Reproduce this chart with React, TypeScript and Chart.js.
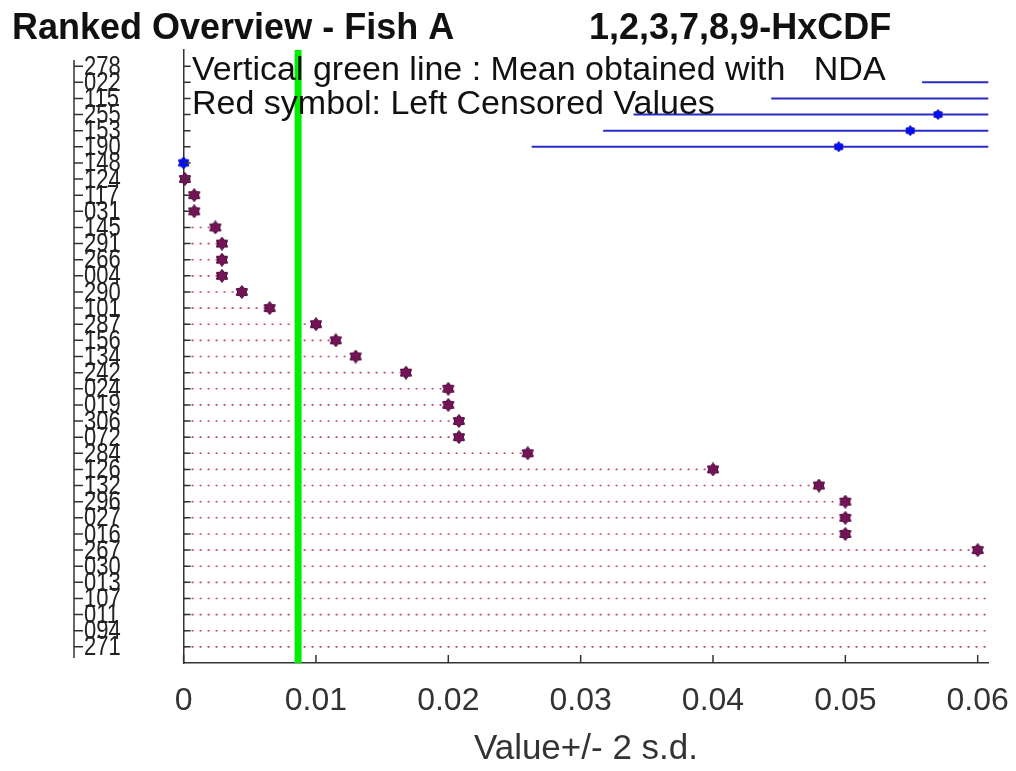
import React, { useEffect, useRef } from 'react';
import { Chart, registerables } from 'chart.js';

Chart.register(...registerables);

const titleLeft = 'Ranked Overview - Fish A';
const titleRight = '1,2,3,7,8,9-HxCDF';
const legendLines = ['Vertical green line : Mean obtained with   NDA', 'Red symbol: Left Censored Values'];
const xAxisTitle = 'Value+/- 2 s.d.';

// rows measured with +/- 2 s.d. (blue)
const blueIds = ['278', '022', '115', '255', '153', '190', '148'];
const blueValues = [0.092, 0.0788, 0.0675, 0.057, 0.0549, 0.0495, 0.0];
const blueLow = [0.069, 0.0558, 0.0444, 0.034, 0.0317, 0.0263, 0.0];
const blueHigh = [0.115, 0.1018, 0.0906, 0.08, 0.0781, 0.0727, 0.0];

// left censored rows (purple)
const censoredIds = [
  '124', '117', '031', '145', '291', '266', '004', '290', '101', '287',
  '156', '134', '242', '024', '019', '306', '072', '284', '126', '132',
  '296', '027', '016', '267', '030', '013', '107', '011', '094', '271',
];
const censoredValues = [
  0.0001, 0.0008, 0.0008, 0.0024, 0.0029, 0.0029, 0.0029, 0.0044, 0.0065, 0.01,
  0.0115, 0.013, 0.0168, 0.02, 0.02, 0.0208, 0.0208, 0.026, 0.04, 0.048,
  0.05, 0.05, 0.05, 0.06, 0.065, 0.07, 0.075, 0.08, 0.09, 0.1,
];

const meanValue = 0.00865;
const xTickValues = [0, 0.01, 0.02, 0.03, 0.04, 0.05, 0.06];
const xTickLabels = ['0', '0.01', '0.02', '0.03', '0.04', '0.05', '0.06'];

const allIds = [...blueIds, ...censoredIds];

const FONT = "'Liberation Sans', Arial, Helvetica, sans-serif";

function hexagram(size: number, fill: string, stroke: string) {
  const c = document.createElement('canvas');
  c.width = size;
  c.height = size;
  const ctx = c.getContext('2d')!;
  const cx = size / 2;
  const cy = size / 2;
  const ro = size / 2 - 0.5;
  const ri = ro * 0.66;
  ctx.beginPath();
  for (let k = 0; k < 12; k++) {
    const a = -Math.PI / 2 + (k * Math.PI) / 6;
    const r = k % 2 === 0 ? ro : ri;
    ctx.lineTo(cx + r * Math.cos(a), cy + r * Math.sin(a));
  }
  ctx.closePath();
  ctx.fillStyle = fill;
  ctx.fill();
  ctx.strokeStyle = stroke;
  ctx.lineWidth = 1;
  ctx.stroke();
  return c;
}

const decorPlugin = {
  id: 'decor',
  afterDatasetsDraw(chart: any) {
    const { ctx, chartArea, scales } = chart;
    const x = scales.x;
    const y = scales.y;
    ctx.save();
    ctx.strokeStyle = '#333';
    ctx.lineWidth = 1.5;
    // inside ticks on y axis and the extra left label column
    allIds.forEach((_, i) => {
      const py = y.getPixelForValue(i);
      ctx.beginPath();
      ctx.moveTo(chartArea.left, py);
      ctx.lineTo(chartArea.left + 7, py);
      ctx.moveTo(74, py);
      ctx.lineTo(83, py);
      ctx.stroke();
    });
    ctx.beginPath();
    ctx.moveTo(74, 60);
    ctx.lineTo(74, 658);
    ctx.stroke();
    // y labels (slightly stretched vertically, like the source)
    ctx.fillStyle = '#222';
    ctx.font = `22px ${FONT}`;
    ctx.textAlign = 'left';
    ctx.textBaseline = 'middle';
    allIds.forEach((id, i) => {
      const py = y.getPixelForValue(i);
      ctx.save();
      ctx.translate(84, py + 1);
      ctx.scale(1, 1.25);
      ctx.fillText(id, 0, 0);
      ctx.restore();
    });
    // inside ticks on x axis
    xTickValues.forEach((v) => {
      const px = x.getPixelForValue(v);
      ctx.beginPath();
      ctx.moveTo(px, chartArea.bottom);
      ctx.lineTo(px, chartArea.bottom - 8);
      ctx.stroke();
    });
    // annotation texts
    ctx.fillStyle = '#111';
    ctx.textBaseline = 'alphabetic';
    ctx.textAlign = 'left';
    ctx.font = `34px ${FONT}`;
    ctx.fillText(legendLines[0], 192, 80);
    ctx.fillText(legendLines[1], 192, 114);
    // title
    ctx.font = `bold 36px ${FONT}`;
    ctx.fillText(titleLeft, 12, 39);
    ctx.fillText(titleRight, 589, 39);
    ctx.restore();
  },
};

export default function App() {
  const ref = useRef<HTMLCanvasElement>(null);

  useEffect(() => {
    document.body.style.margin = '0';
    const purple = hexagram(14, '#741458', '#4a0838');
    const blue = hexagram(11, '#0010ff', '#0000b0');
    const blueBig = hexagram(13, '#0010ff', '#0000b0');

    const nBlue = blueIds.length;
    const datasets: any[] = [];

    // points
    datasets.push({
      label: 'censored',
      data: censoredValues.map((v, i) => ({ x: v, y: nBlue + i })),
      pointStyle: purple,
      pointRadius: 7,
      showLine: false,
      clip: { left: 8, right: 0, top: 0, bottom: 0 },
      order: 0,
    });
    datasets.push({
      label: 'measured',
      data: blueValues.map((v, i) => ({ x: v, y: i })),
      pointStyle: blueValues.map((v) => (v === 0 ? blueBig : blue)),
      pointRadius: 6,
      showLine: false,
      clip: { left: 8, right: 0, top: 0, bottom: 0 },
      order: 0,
    });
    // mean line
    datasets.push({
      label: 'mean',
      data: [
        { x: meanValue, y: -1 },
        { x: meanValue, y: allIds.length },
      ],
      showLine: true,
      borderColor: '#00ee00',
      borderWidth: 7,
      pointRadius: 0,
      order: 1,
    });
    // dotted lines for censored values
    censoredValues.forEach((v, i) => {
      datasets.push({
        label: 'dot' + i,
        data: [
          { x: 0, y: nBlue + i },
          { x: v, y: nBlue + i },
        ],
        showLine: true,
        borderColor: '#c04468',
        borderWidth: 1.6,
        borderDash: [2, 6],
        pointRadius: 0,
        order: 2,
      });
    });
    // error bars
    blueValues.forEach((_, i) => {
      datasets.push({
        label: 'err' + i,
        data: [
          { x: blueLow[i], y: i },
          { x: blueHigh[i], y: i },
        ],
        showLine: true,
        borderColor: '#2a2ac8',
        borderWidth: 2,
        pointRadius: 0,
        order: 2,
      });
    });

    const chart = new Chart(ref.current!, {
      type: 'scatter',
      data: { datasets },
      options: {
        responsive: false,
        animation: false,
        layout: { padding: { left: 84, top: 50, right: 27.7, bottom: 0 } },
        plugins: { legend: { display: false }, tooltip: { enabled: false }, title: { display: false } },
        scales: {
          x: {
            type: 'linear',
            min: 0,
            max: 0.0608,
            afterBuildTicks: (s: any) => {
              s.ticks = xTickValues.map((v) => ({ value: v }));
            },
            afterFit: (s: any) => {
              s.height = 108;
              s.paddingLeft = 0;
              s.paddingRight = 0;
            },
            ticks: {
              callback: (_v: any, i: number) => xTickLabels[i],
              font: { family: FONT, size: 32 },
              color: '#333',
              padding: 19,
              autoSkip: false,
              maxRotation: 0,
            },
            grid: { display: false, drawTicks: false },
            border: { display: true, color: '#333', width: 1.5 },
            title: {
              display: true,
              text: xAxisTitle,
              font: { family: FONT, size: 35 },
              color: '#333',
              padding: { top: 0, bottom: 1 },
            },
          },
          y: {
            type: 'linear',
            min: -1,
            max: allIds.length,
            reverse: true,
            afterBuildTicks: (s: any) => {
              s.ticks = allIds.map((_, i) => ({ value: i }));
            },
            afterFit: (s: any) => {
              s.width = 99.6;
              s.paddingTop = 0;
              s.paddingBottom = 0;
            },
            ticks: { display: false },
            grid: { display: false, drawTicks: false },
            border: { display: true, color: '#333', width: 1.5 },
          },
        },
      },
      plugins: [decorPlugin],
    } as any);

    return () => chart.destroy();
  }, []);

  return (
    <div style={{ position: 'absolute', left: 0, top: 0, width: 1016, height: 771, background: '#fff' }}>
      <canvas ref={ref} width={1016} height={771} />
    </div>
  );
}
